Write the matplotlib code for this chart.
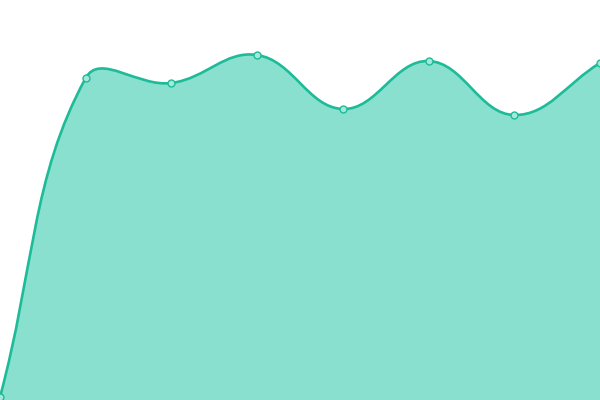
import numpy as np
import matplotlib
matplotlib.use("Agg")
import matplotlib.pyplot as plt
from matplotlib.path import Path
from matplotlib.patches import PathPatch

categories = ["A", "B", "C", "D", "E", "F", "G", "H"]
values = [3, 322, 317, 345, 291, 339, 285, 337]

LINE = "#1dbb98"
FILL = "#89e0cf"

fig = plt.figure(figsize=(6, 4), dpi=100)
ax = fig.add_axes([0, 0, 1, 1])
ax.set_xlim(0, len(categories) - 1)
ax.set_ylim(0, 400)
ax.axis("off")

x = np.arange(len(categories), dtype=float)
y = np.array(values, dtype=float)
fig.canvas.draw()
pts = ax.transData.transform(np.column_stack([x, y]))
inv = ax.transData.inverted()

tension = 0.4
n = len(pts)
cp_before = [None] * n
cp_after = [None] * n
for i in range(n):
    cur = pts[i]
    prev = pts[i - 1] if i > 0 else cur
    nxt = pts[i + 1] if i < n - 1 else cur
    v = nxt - prev
    lp = np.hypot(*(cur - prev))
    ln = np.hypot(*(cur - nxt))
    tot = lp + ln
    if tot == 0:
        cp_before[i] = cur
        cp_after[i] = cur
        continue
    cp_after[i] = cur + v * tension * ln / tot
    cp_before[i] = cur - v * tension * lp / tot

verts = [pts[0]]
codes = [Path.MOVETO]
for i in range(n - 1):
    verts += [cp_after[i], cp_before[i + 1], pts[i + 1]]
    codes += [Path.CURVE4] * 3
verts_d = inv.transform(np.array(verts))

line_path = Path(verts_d, codes)
fill_verts = np.vstack([verts_d, [[x[-1], 0], [x[0], 0], verts_d[0]]])
fill_codes = codes + [Path.LINETO, Path.LINETO, Path.CLOSEPOLY]
ax.add_patch(PathPatch(Path(fill_verts, fill_codes), facecolor=FILL, edgecolor="none", zorder=1))
ax.add_patch(PathPatch(line_path, facecolor="none", edgecolor=LINE, lw=1.9, zorder=2, capstyle="round"))
ax.plot(x, y, "o", ms=5, mfc="#a5e8da", mec=LINE, mew=1.0, zorder=3, clip_on=False)

fig.savefig("out.png", dpi=100)
